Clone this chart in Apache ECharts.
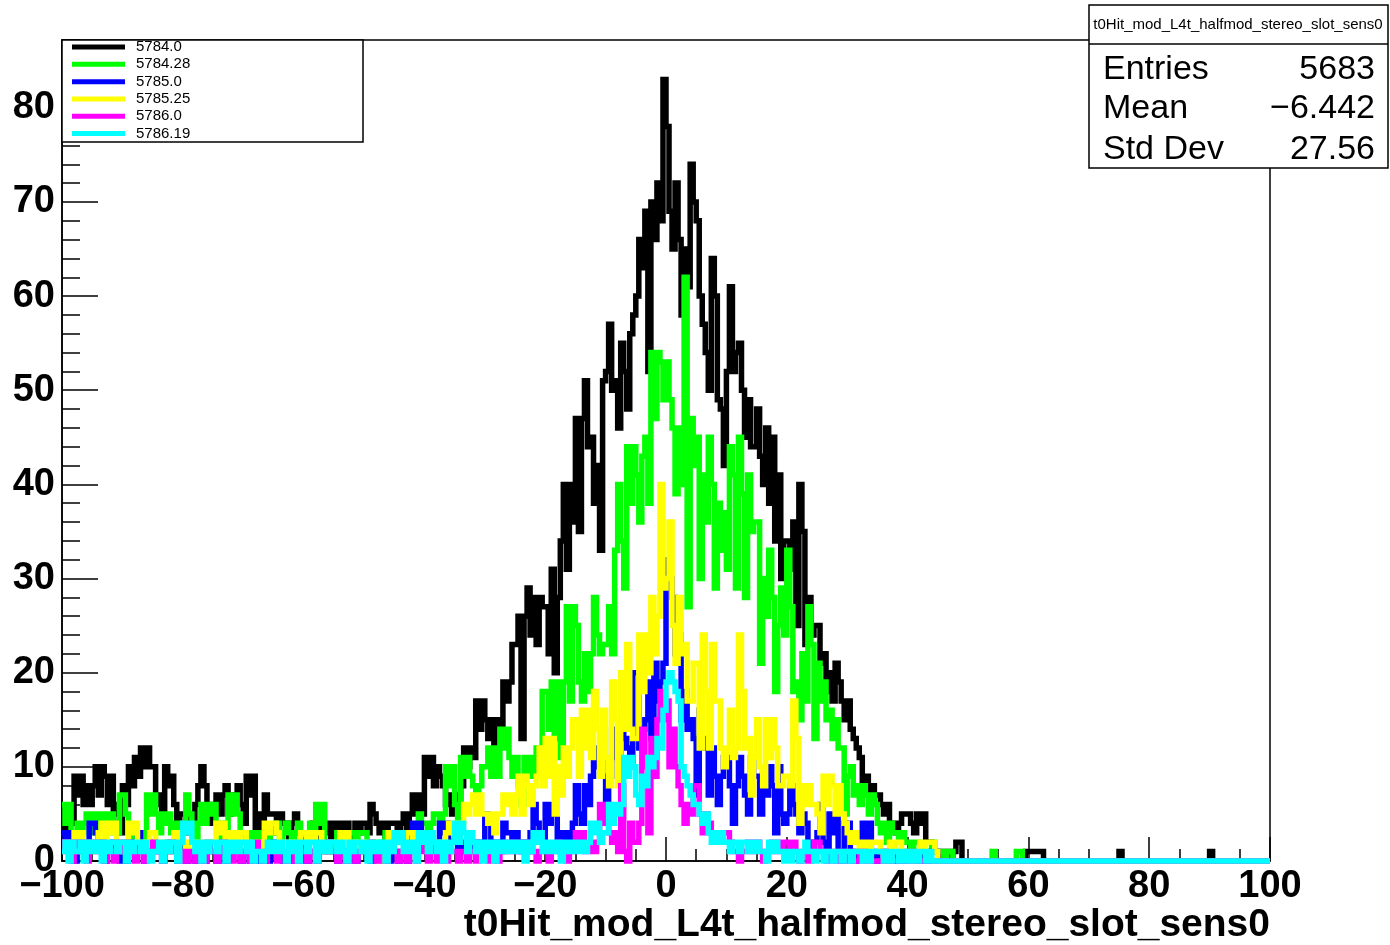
<!DOCTYPE html>
<html><head><meta charset="utf-8">
<script src="https://cdn.jsdelivr.net/npm/echarts@6/dist/echarts.min.js"></script>
<style>html,body{margin:0;padding:0;background:#fff}#c{width:1390px;height:945px}</style>
</head><body><div id="c"></div>
<script>
// Histogram: 400 bins of width 0.5 from -100 to 100
const xMin = -100, xMax = 100, binWidth = 0.5;
const seriesNames = ['5784.0', '5784.28', '5785.0', '5785.25', '5786.0', '5786.19'];
const seriesColors = ['#000000', '#00ff00', '#0000ff', '#ffff00', '#ff00ff', '#00ffff'];
const xTitle = 't0Hit_mod_L4t_halfmod_stereo_slot_sens0';
const statsTitle = 't0Hit_mod_L4t_halfmod_stereo_slot_sens0';
const statsLabels = ['Entries', 'Mean', 'Std Dev'];
const statsValues = ['5683', '\u22126.442', '27.56'];

const black = [
4,2,5,4,9,7,9,6,8,6,
8,10,7,10,9,6,9,5,6,3,
8,6,10,8,11,9,12,10,12,10,
10,6,7,4,10,8,9,6,4,5,
5,3,5,4,6,8,10,8,6,4,
6,7,5,7,8,5,6,7,8,6,
4,9,7,9,3,5,3,7,5,5,
5,3,5,4,4,2,4,5,3,3,
3,2,3,4,2,4,3,3,4,2,
4,3,4,3,4,2,3,4,3,4,
4,3,6,5,4,3,4,2,4,4,
4,3,4,5,3,5,7,5,7,5,
11,9,11,8,10,9,8,6,7,5,
7,6,8,12,10,12,11,17,14,17,
15,13,15,12,15,13,19,17,19,23,
23,26,13,26,29,24,28,23,28,27,
27,22,31,20,28,34,40,31,40,36,
47,35,47,51,44,45,38,42,33,51,
52,57,50,51,46,55,52,48,56,58,
60,66,63,69,52,70,66,72,68,83,
78,69,65,72,66,58,65,61,74,70,
68,60,57,54,50,64,60,49,48,42,
52,61,52,54,55,50,45,49,44,44,
48,43,40,46,38,45,34,41,30,34,
34,31,36,25,40,35,23,28,24,25,
25,21,22,18,20,17,21,19,17,15,
17,14,13,12,11,8,9,7,8,7,
7,6,5,6,4,4,3,4,5,5,
5,4,3,5,4,5,2,2,1,1,
1,0,1,1,0,1,2,2,0,0,
0,0,0,0,0,0,0,0,0,0,
0,0,0,0,0,0,0,0,0,1,
1,1,1,1,1,0,0,0,0,0,
0,0,0,0,0,0,0,0,0,0,
0,0,0,0,0,0,0,0,0,0,
1,0,0,0,0,0,0,0,0,0,
0,0,0,0,0,0,0,0,0,0,
0,0,0,0,0,0,0,0,0,0,
1,0,0,0,0,0,0,0,0,0,
0,0,0,0,0,0,0,0,0,0
];
const green = [
6,4,6,3,2,4,3,4,5,3,
5,3,5,4,5,3,5,4,3,7,
7,5,3,2,3,1,3,2,7,5,
7,5,3,5,4,5,3,4,2,4,
4,7,5,4,2,4,6,4,6,5,
6,4,2,4,3,7,5,7,5,3,
3,2,3,1,3,2,3,3,2,3,
3,4,2,3,4,3,2,3,4,3,
3,2,4,3,6,4,6,2,1,2,
2,3,1,3,2,3,3,2,3,3,
3,2,2,1,2,1,2,3,2,3,
3,2,3,2,3,1,3,3,5,4,
4,3,4,5,5,4,5,10,8,10,
6,4,11,9,11,9,8,6,8,10,
10,12,9,12,9,14,12,14,11,9,
11,8,6,11,9,11,9,12,10,18,
18,14,19,13,19,11,19,27,17,27,
25,19,17,22,18,22,28,24,22,23,
23,27,22,33,40,34,29,44,38,44,
41,36,43,45,38,54,47,54,53,49,
53,49,46,39,46,40,62,27,47,42,
45,30,41,36,45,40,29,38,33,37,
31,44,41,29,45,39,28,41,35,36,
36,21,30,26,33,28,18,25,29,24,
33,27,18,19,15,22,17,27,23,13,
21,17,19,15,16,13,15,12,12,5,
9,10,7,8,6,8,7,5,7,6,
4,3,4,2,4,3,3,2,3,2,
2,1,2,2,1,1,0,1,2,1,
1,1,0,1,1,0,0,0,0,0,
0,0,0,0,0,0,0,0,1,0,
0,0,0,0,0,0,1,1,0,0,
0,0,0,0,0,0,0,0,0,0,
0,0,0,0,0,0,0,0,0,0,
0,0,0,0,0,0,0,0,0,0,
0,0,0,0,0,0,0,0,0,0,
0,0,0,0,0,0,0,0,0,0,
0,0,0,0,0,0,0,0,0,0,
0,0,0,0,0,0,0,0,0,0,
0,0,0,0,0,0,0,0,0,0
];
const blue = [
3,2,3,1,0,1,1,2,1,4,
4,3,2,1,0,1,2,1,1,0,
1,0,2,1,1,3,1,0,1,1,
2,1,1,0,1,2,1,1,0,1,
1,0,1,1,0,1,1,0,2,1,
1,0,1,1,0,1,2,1,1,0,
1,1,0,1,1,0,1,1,0,1,
2,1,1,0,1,1,0,1,1,0,
1,0,1,1,0,1,1,2,1,1,
1,0,1,1,0,1,1,0,1,1,
1,1,0,1,1,0,1,1,0,1,
1,0,1,1,0,2,4,3,4,2,
2,1,2,1,2,4,3,4,2,2,
2,1,2,1,2,1,2,1,2,1,
5,4,2,1,2,1,4,3,3,2,
3,2,1,2,1,3,6,4,3,2,
6,4,6,5,2,3,2,3,2,4,
8,5,4,8,6,9,12,10,12,9,
6,9,14,11,9,16,13,12,10,20,
20,12,14,15,19,13,21,17,19,21,
32,30,28,22,24,15,18,14,15,13,
7,16,12,13,7,12,9,6,9,11,
11,8,4,8,11,9,7,5,11,9,
9,5,10,7,10,8,3,10,5,4,
5,8,6,5,3,5,4,2,1,2,
3,6,2,1,5,3,5,1,0,4,
4,1,0,1,1,4,2,4,1,0,
1,1,0,1,0,1,0,1,1,0,
1,0,1,1,0,1,0,1,1,1,
0,0,0,0,0,0,0,0,0,0,
0,0,0,0,0,0,0,0,0,0,
0,0,0,0,0,0,0,0,0,0,
0,0,0,0,0,0,0,0,0,0,
0,0,0,0,0,0,0,0,0,0,
0,0,0,0,0,0,0,0,0,0,
0,0,0,0,0,0,0,0,0,0,
0,0,0,0,0,0,0,0,0,0,
0,0,0,0,0,0,0,0,0,0,
0,0,0,0,0,0,0,0,0,0,
0,0,0,0,0,0,0,0,0,0
];
const yellow = [
2,1,2,2,3,1,3,2,1,2,
2,1,3,4,2,4,3,4,2,1,
2,1,4,3,4,2,1,2,2,3,
3,2,2,1,2,2,1,3,2,3,
2,1,2,2,1,2,2,1,2,2,
2,4,3,4,2,3,2,3,1,3,
3,2,2,1,2,2,1,4,3,4,
4,3,2,2,1,2,2,1,2,3,
3,2,3,2,3,3,2,1,2,2,
2,1,3,2,3,2,1,2,2,1,
2,1,2,2,1,0,1,1,3,2,
3,2,3,2,3,3,2,3,2,3,
2,1,2,2,1,2,2,3,4,3,
4,3,4,6,5,6,7,5,7,5,
5,4,5,3,5,5,7,6,7,5,
7,9,5,9,8,6,8,9,12,8,
13,9,13,5,10,7,12,9,12,15,
15,9,16,12,16,11,18,14,9,16,
11,8,19,15,8,20,14,23,14,13,
13,24,18,24,20,28,22,26,40,29,
30,36,25,21,28,22,23,17,17,21,
21,12,24,18,12,23,17,17,12,10,
12,16,11,12,24,18,12,13,7,11,
15,10,8,15,11,15,12,8,8,9,
9,8,17,13,4,8,6,8,6,6,
5,3,9,6,9,8,5,8,5,4,
3,2,3,2,1,2,2,1,2,2,
2,1,1,0,2,1,2,2,1,1,
1,0,1,1,2,1,2,2,2,1,
0,0,0,0,0,0,0,0,0,0,
0,0,0,0,0,0,0,0,0,0,
0,0,0,0,0,0,0,0,0,0,
0,0,0,0,0,0,0,0,0,0,
0,0,0,0,0,0,0,0,0,0,
0,0,0,0,0,0,0,0,0,0,
0,0,0,0,0,0,0,0,0,0,
0,0,0,0,0,0,0,0,0,0,
0,0,0,0,0,0,0,0,0,0,
0,0,0,0,0,0,0,0,0,0,
0,0,0,0,0,0,0,0,0,0
];
const magenta = [
2,1,2,0,2,1,2,1,0,2,
2,1,2,2,0,1,1,0,2,1,
2,1,2,1,0,1,1,0,1,1,
2,1,1,0,1,1,2,1,1,0,
1,0,1,1,0,1,1,0,1,1,
1,0,1,2,1,1,0,1,1,0,
1,1,0,1,2,1,1,0,1,1,
1,0,1,1,0,1,1,0,1,1,
1,0,1,1,0,1,1,1,2,1,
1,0,1,1,0,1,1,0,1,1,
1,1,2,1,0,1,1,0,1,1,
1,0,1,1,0,1,1,0,2,1,
1,0,1,1,0,1,1,0,1,1,
1,0,1,1,0,1,1,0,1,1,
1,0,1,1,0,1,1,2,1,2,
2,1,2,1,2,1,1,0,1,1,
1,0,1,1,2,1,1,0,1,1,
3,2,3,1,1,2,1,2,6,4,
6,3,2,3,1,8,1,0,4,2,
2,4,14,10,3,13,9,15,18,15,
17,10,14,10,8,6,4,6,5,8,
8,5,3,5,4,3,3,2,3,3,
3,2,1,1,0,1,1,2,1,2,
2,1,0,1,1,2,1,2,1,2,
2,1,2,1,0,1,1,0,1,2,
2,1,1,0,1,1,0,1,1,0,
1,1,0,0,1,1,0,0,0,0,
0,0,1,0,0,0,0,0,0,0,
0,0,0,0,0,0,0,0,0,0,
0,0,0,0,0,0,0,0,0,0,
0,0,0,0,0,0,0,0,0,0,
0,0,0,0,0,0,0,0,0,0,
0,0,0,0,0,0,0,0,0,0,
0,0,0,0,0,0,0,0,0,0,
0,0,0,0,0,0,0,0,0,0,
0,0,0,0,0,0,0,0,0,0,
0,0,0,0,0,0,0,0,0,0,
0,0,0,0,0,0,0,0,0,0,
0,0,0,0,0,0,0,0,0,0,
0,0,0,0,0,0,0,0,0,0
];
const cyan = [
1,2,0,2,1,1,2,0,2,1,
2,1,2,0,2,1,2,2,1,2,
2,0,2,1,2,2,1,2,1,0,
1,1,2,0,2,1,2,2,0,2,
4,3,4,2,1,2,0,2,1,2,
2,1,2,2,0,2,1,2,1,2,
2,1,2,0,1,1,0,1,2,1,
2,1,2,1,0,2,1,2,0,2,
2,1,2,2,0,2,1,2,1,2,
2,1,2,1,0,2,1,2,2,1,
2,0,2,1,2,1,2,0,2,1,
3,2,3,1,2,1,2,0,3,2,
3,1,3,2,1,2,0,2,1,2,
4,2,4,3,1,3,2,1,2,0,
2,1,2,0,2,1,2,1,2,1,
2,1,2,0,2,1,3,2,3,1,
2,1,2,1,2,0,2,1,2,1,
2,1,2,1,2,4,3,4,2,3,
3,6,4,6,5,6,11,9,11,10,
7,6,9,8,11,10,11,13,12,16,
19,20,19,18,17,10,9,8,7,6,
6,5,4,5,3,2,3,2,3,2,
2,1,2,2,1,2,2,1,2,1,
2,1,1,0,2,1,2,1,1,0,
1,0,1,1,0,1,2,1,1,0,
1,1,0,1,1,0,1,1,0,1,
1,0,1,1,1,0,1,0,1,1,
1,1,0,1,0,1,1,0,1,0,
1,0,1,0,1,1,0,1,0,0,
0,0,0,0,0,0,0,0,0,0,
0,0,0,0,0,0,0,0,0,0,
0,0,0,0,0,0,0,0,0,0,
0,0,0,0,0,0,0,0,0,0,
0,0,0,0,0,0,0,0,0,0,
0,0,0,0,0,0,0,0,0,0,
0,0,0,0,0,0,0,0,0,0,
0,0,0,0,0,0,0,0,0,0,
0,0,0,0,0,0,0,0,0,0,
0,0,0,0,0,0,0,0,0,0,
0,0,0,0,0,0,0,0,0,0
];

const allValues = [black, green, blue, yellow, magenta, cyan];
const FONT = '"Liberation Sans", Arial, Helvetica, sans-serif';

function toSteps(vals) {
  const pts = vals.map((v, i) => [xMin + i * binWidth, v]);
  pts.push([xMax, vals[vals.length - 1]]);
  return pts;
}

const chart = echarts.init(document.getElementById('c'), null, {renderer: 'canvas'});

const series = allValues.map((vals, k) => ({
  type: 'line',
  name: seriesNames[k],
  data: toSteps(vals),
  step: 'end',
  symbol: 'none',
  showSymbol: false,
  clip: false,
  silent: true,
  color: seriesColors[k],
  itemStyle: {color: seriesColors[k]},
  lineStyle: {color: seriesColors[k], width: 5.5, join: 'miter', cap: 'butt'},
  z: 2 + k
}));

const blackLine = {color: '#000', width: 1.5};

const option = {
  animation: false,
  backgroundColor: '#fff',
  grid: {left: 62, right: 120, top: 40, bottom: 84, show: true, borderColor: '#000', borderWidth: 1.5, backgroundColor: 'transparent'},
  xAxis: [{
    type: 'value', min: xMin, max: xMax, interval: 20,
    axisLine: {show: true, onZero: false, lineStyle: blackLine},
    axisTick: {show: true, inside: true, length: 24, lineStyle: blackLine},
    minorTick: {show: true, splitNumber: 4, length: 12, lineStyle: blackLine},
    splitLine: {show: false},
    axisLabel: {fontSize: 38, fontWeight: 'bold', color: '#000', fontFamily: FONT, margin: 7,
      formatter: v => String(v).replace('-', '\u2212')},
    name: xTitle, nameLocation: 'end', nameGap: 0,
    nameTextStyle: {fontSize: 39, fontWeight: 'bold', color: '#000', fontFamily: FONT,
      align: 'right', verticalAlign: 'top', padding: [45, 0, 0, 0]}
  }],
  yAxis: [{
    type: 'value', min: 0, max: 87.2, interval: 10,
    axisLine: {show: true, onZero: false, lineStyle: blackLine},
    axisTick: {show: true, inside: true, length: 36, lineStyle: blackLine},
    splitLine: {show: false},
    axisLabel: {fontSize: 38, fontWeight: 'bold', color: '#000', fontFamily: FONT, margin: 7, showMaxLabel: false}
  }, {
    type: 'value', min: 0, max: 87.2, interval: 2, position: 'left', offset: 0,
    axisLine: {show: false, onZero: false},
    axisTick: {show: true, inside: true, length: 18, lineStyle: blackLine},
    splitLine: {show: false},
    axisLabel: {show: false}
  }],
  legend: {
    orient: 'vertical', left: 72, top: 38.4, padding: 0, itemGap: 0,
    itemWidth: 53, itemHeight: 5, icon: 'rect', selectedMode: false, z: 10,
    textStyle: {fontSize: 15, color: '#000', fontFamily: FONT, lineHeight: 17.3, padding: [0, 0, 0, 6]},
    data: seriesNames
  },
  graphic: [
    {type: 'rect', z: 9, shape: {x: 62, y: 40, width: 301, height: 102},
      style: {fill: '#fff', stroke: '#000', lineWidth: 1.5}},
    {type: 'group', z: 20, children: [
      {type: 'rect', z: 20, shape: {x: 1089, y: 5, width: 299, height: 163},
        style: {fill: '#fff', stroke: '#000', lineWidth: 1.5}},
      {type: 'line', z: 21, shape: {x1: 1089, y1: 44, x2: 1388, y2: 44},
        style: {stroke: '#000', lineWidth: 1.5}},
      {type: 'text', z: 21, style: {text: statsTitle, x: 1238, y: 25, fill: '#000',
        fontSize: 15, fontFamily: FONT, align: 'center', verticalAlign: 'middle', textAlign: 'center', textVerticalAlign: 'middle'}},
      ...statsLabels.map((t, i) => ({type: 'text', z: 21, style: {text: t, x: 1103, y: [70, 109, 150][i], fill: '#000',
        fontSize: 34, fontFamily: FONT, align: 'left', verticalAlign: 'middle', textAlign: 'left', textVerticalAlign: 'middle'}})),
      ...statsValues.map((t, i) => ({type: 'text', z: 21, style: {text: t, x: 1375, y: [70, 109, 150][i], fill: '#000',
        fontSize: 34, fontFamily: FONT, align: 'right', verticalAlign: 'middle', textAlign: 'right', textVerticalAlign: 'middle'}}))
    ]}
  ],
  series: series
};
chart.setOption(option);
</script>
</body></html>
